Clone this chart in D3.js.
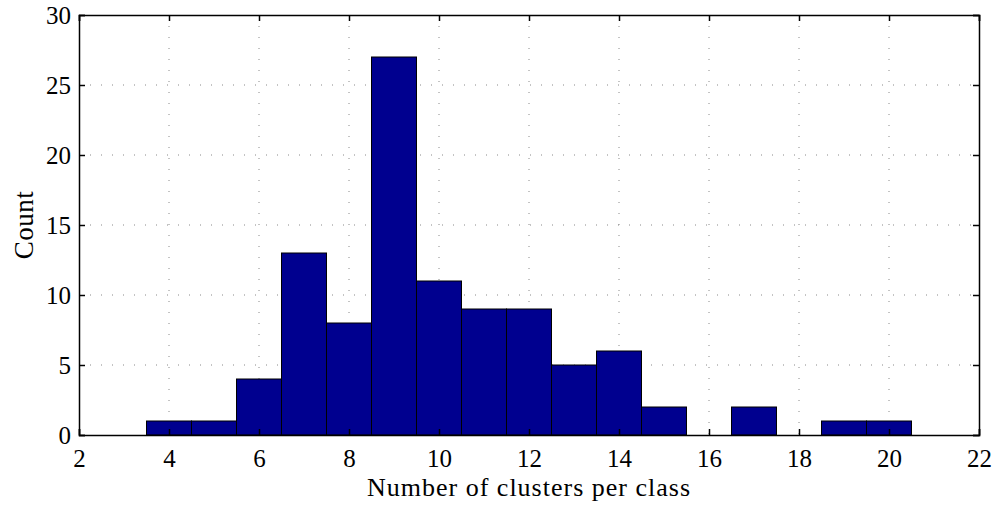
<!DOCTYPE html>
<html>
<head>
<meta charset="utf-8">
<script src="https://cdn.jsdelivr.net/npm/d3@7"></script>
<style>
  body { margin: 0; background: #fff; }
  svg text { font-family: "Liberation Serif", serif; fill: #000; }
</style>
</head>
<body>
<script>
// histogram bins (centres) and counts
var binCenters = [4, 5, 6, 7, 8, 9, 10, 11, 12, 13, 14, 15, 16, 17, 18, 19, 20];
var counts     = [1, 1, 4, 13, 8, 27, 11, 9, 9, 5, 6, 2, 0, 2, 0, 1, 1];
var xTicks = [2, 4, 6, 8, 10, 12, 14, 16, 18, 20, 22];
var yTicks = [0, 5, 10, 15, 20, 25, 30];

var margin = {top: 15, right: 17, bottom: 73, left: 79},
    width = 996 - margin.left - margin.right,
    height = 508 - margin.top - margin.bottom;

var x = d3.scaleLinear().domain([2, 22]).range([0, width]);
var y = d3.scaleLinear().domain([0, 30]).range([height, 0]);

var svg = d3.select("body").append("svg")
    .attr("width", 996)
    .attr("height", 508)
  .append("g")
    .attr("transform", "translate(" + margin.left + "," + margin.top + ")");

// dotted grid
svg.append("g").selectAll("line").data(xTicks.slice(1, -1)).enter().append("line")
    .attr("x1", d => x(d)).attr("x2", d => x(d))
    .attr("y1", 0).attr("y2", height)
    .attr("stroke", "#888").attr("stroke-width", 1)
    .attr("stroke-dasharray", "1,10");
svg.append("g").selectAll("line").data(yTicks.slice(1, -1)).enter().append("line")
    .attr("x1", 0).attr("x2", width)
    .attr("y1", d => y(d)).attr("y2", d => y(d))
    .attr("stroke", "#888").attr("stroke-width", 1)
    .attr("stroke-dasharray", "1,10");

// bars (empty bins are not drawn)
svg.append("g").selectAll("rect").data(binCenters).enter().append("rect")
    .filter((d, i) => counts[i] > 0)
    .attr("x", d => x(d - 0.5))
    .attr("width", d => x(d + 0.5) - x(d - 0.5))
    .attr("y", d => y(counts[binCenters.indexOf(d)]))
    .attr("height", d => height - y(counts[binCenters.indexOf(d)]))
    .attr("fill", "#00008f")
    .attr("stroke", "#000").attr("stroke-width", 1);

// axes, ticks pointing inward
var axBottom = svg.append("g")
    .attr("transform", "translate(0," + height + ")")
    .call(d3.axisBottom(x).tickValues(xTicks).tickSize(-6));
var axTop = svg.append("g")
    .call(d3.axisTop(x).tickValues(xTicks).tickSize(-6).tickFormat(""));
var axLeft = svg.append("g")
    .call(d3.axisLeft(y).tickValues(yTicks).tickSize(-6).tickPadding(8));
var axRight = svg.append("g")
    .attr("transform", "translate(" + width + ",0)")
    .call(d3.axisRight(y).tickValues(yTicks).tickSize(-6).tickFormat(""));

[axBottom, axTop, axLeft, axRight].forEach(function(g) {
  g.attr("font-family", "Liberation Serif").attr("font-size", 25);
  g.select(".domain").attr("stroke", "#000").attr("stroke-width", 1.5);
  g.selectAll(".tick line").attr("stroke", "#000").attr("stroke-width", 1.5);
  g.selectAll(".tick text")
    .attr("font-family", "Liberation Serif")
    .style("font-family", "Liberation Serif, serif")
    .style("font-size", "25px");
});
axBottom.selectAll(".tick text").attr("y", 32).attr("dy", 0);

// axis labels
svg.append("text")
    .attr("x", width / 2)
    .attr("y", height + 61)
    .attr("text-anchor", "middle")
    .style("font-size", "26px")
    .style("letter-spacing", "1px")
    .text("Number of clusters per class");

svg.append("text")
    .attr("transform", "translate(" + (-46) + "," + (height / 2) + ") rotate(-90)")
    .attr("text-anchor", "middle")
    .style("font-size", "27px")
    .style("letter-spacing", "0.5px")
    .text("Count");
</script>
</body>
</html>
